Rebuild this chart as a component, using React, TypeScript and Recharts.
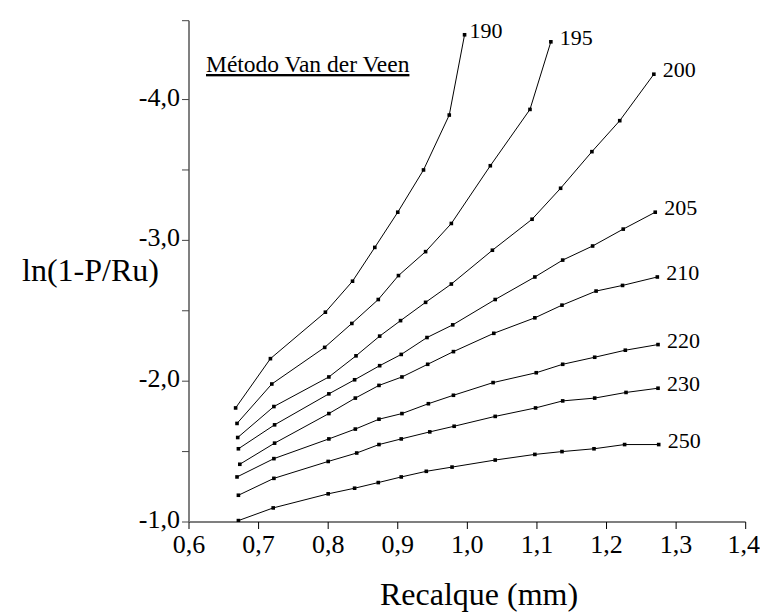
import { LineChart, Line, XAxis, YAxis } from 'recharts';

// Recalque (mm) x ln(1-P/Ru), one curve per load Ru (kN)
const loads = [190, 195, 200, 205, 210, 220, 230, 250];

const s190 = [[0.667, -1.81], [0.717, -2.16], [0.796, -2.49], [0.835, -2.71], [0.867, -2.95], [0.9, -3.2], [0.937, -3.5], [0.974, -3.89], [0.996, -4.46]];
const s195 = [[0.669, -1.7], [0.719, -1.98], [0.795, -2.24], [0.834, -2.41], [0.872, -2.58], [0.901, -2.75], [0.94, -2.92], [0.977, -3.12], [1.033, -3.53], [1.09, -3.93], [1.12, -4.41]];
const s200 = [[0.67, -1.6], [0.722, -1.82], [0.801, -2.03], [0.84, -2.18], [0.874, -2.32], [0.904, -2.43], [0.94, -2.56], [0.977, -2.69], [1.036, -2.93], [1.093, -3.15], [1.134, -3.37], [1.179, -3.63], [1.219, -3.85], [1.268, -4.18]];
const s205 = [[0.671, -1.52], [0.723, -1.69], [0.801, -1.91], [0.838, -2.01], [0.874, -2.11], [0.905, -2.19], [0.942, -2.31], [0.979, -2.4], [1.04, -2.58], [1.097, -2.74], [1.137, -2.86], [1.18, -2.96], [1.224, -3.08], [1.27, -3.2]];
const s210 = [[0.673, -1.41], [0.723, -1.56], [0.801, -1.77], [0.839, -1.88], [0.873, -1.97], [0.906, -2.03], [0.943, -2.12], [0.98, -2.21], [1.038, -2.34], [1.097, -2.45], [1.136, -2.54], [1.185, -2.64], [1.223, -2.68], [1.273, -2.74]];
const s220 = [[0.669, -1.32], [0.722, -1.45], [0.801, -1.59], [0.839, -1.66], [0.873, -1.73], [0.906, -1.77], [0.944, -1.84], [0.98, -1.9], [1.037, -1.99], [1.099, -2.06], [1.137, -2.12], [1.183, -2.17], [1.227, -2.22], [1.274, -2.26]];
const s230 = [[0.671, -1.19], [0.722, -1.31], [0.8, -1.43], [0.841, -1.49], [0.873, -1.55], [0.905, -1.59], [0.946, -1.64], [0.981, -1.68], [1.04, -1.75], [1.098, -1.81], [1.137, -1.86], [1.183, -1.88], [1.228, -1.92], [1.274, -1.95]];
const s250 = [[0.671, -1.01], [0.721, -1.1], [0.8, -1.2], [0.838, -1.24], [0.872, -1.28], [0.905, -1.32], [0.941, -1.36], [0.978, -1.39], [1.04, -1.44], [1.097, -1.48], [1.136, -1.5], [1.182, -1.52], [1.226, -1.55], [1.275, -1.55]];

const xTicks = [0.6, 0.7, 0.8, 0.9, 1.0, 1.1, 1.2, 1.3, 1.4];
const yTicks = [-4.56, -4, -3.5, -3, -2.5, -2, -1.5, -1];
const yDomain = [-4.56, -1];

const series = [s190, s195, s200, s205, s210, s220, s230, s250];
const FONT = '"Liberation Serif", "Times New Roman", serif';
const fmt = (v: number) => v.toFixed(1).replace('.', ',');

// label nudges so the numbers sit like in the original
const labelDx: Record<number, number> = { 190: 5, 195: 9 };

const SquareDot = (p: any) => (
	<rect key={`d-${p.index}`} x={p.cx - 1.8} y={p.cy - 1.8} width={3.6} height={3.6} fill="#000" />
);

function YTick(p: any) {
	const v = p.payload.value;
	if (!Number.isInteger(v)) return null;
	return (
		<text x={p.x} y={p.y + 6} textAnchor="end" fontSize={26} fontFamily={FONT} fill="#000">
			{fmt(v)}
		</text>
	);
}

export default function App() {
	return (
		<div style={{ position: 'absolute', left: 0, top: 0 }}>
			<LineChart width={760} height={612} margin={{ top: 20.7, right: 14.3, bottom: 0, left: 0 }}>
				<XAxis
					xAxisId={0}
					dataKey="x"
					type="number"
					domain={[0.6, 1.4]}
					ticks={xTicks}
					tickFormatter={fmt}
					height={90}
					tickSize={7}
					tickMargin={6}
					axisLine={{ stroke: '#000', strokeWidth: 1.2 }}
					tickLine={{ stroke: '#000' }}
					tick={{ fill: '#000', fontSize: 26, fontFamily: FONT }}
					allowDataOverflow
				/>
				<XAxis
					xAxisId="top"
					orientation="top"
					type="number"
					domain={[0.6, 1.4]}
					ticks={[0.6, 1.4]}
					tickFormatter={() => ''}
					height={0}
					tickSize={6}
					axisLine={{ stroke: '#888', strokeWidth: 1.5 }}
					tickLine={{ stroke: '#555' }}
				/>
				<YAxis
					yAxisId={0}
					type="number"
					domain={yDomain}
					reversed
					ticks={yTicks}
					width={189}
					tickSize={7}
					tickMargin={2}
					tick={<YTick />}
					axisLine={{ stroke: '#808080', strokeWidth: 2 }}
					tickLine={{ stroke: '#444' }}
					allowDataOverflow
				/>
				<YAxis
					yAxisId="right"
					orientation="right"
					type="number"
					domain={yDomain}
					reversed
					ticks={[-4.56, -1]}
					tickFormatter={() => ''}
					width={0}
					tickSize={6}
					axisLine={{ stroke: '#000', strokeWidth: 1.2 }}
					tickLine={{ stroke: '#000' }}
				/>
				{series.map((s, i) => {
					const load = loads[i];
					const data = s.map(([x, y]) => ({ x, y }));
					const last = data.length - 1;
					return (
						<Line
							key={load}
							data={data}
							dataKey="y"
							xAxisId={0}
							yAxisId={0}
							type="linear"
							stroke="#000"
							strokeWidth={1}
							dot={SquareDot}
							activeDot={false}
							isAnimationActive={false}
							label={(p: any) =>
								p.index === last ? (
									<text
										key={`l-${load}`}
										x={p.x + (labelDx[load] ?? 9)}
										y={p.y + 3}
										fontSize={22}
										fontFamily={FONT}
										fill="#000"
									>
										{load}
									</text>
								) : null
							}
						/>
					);
				})}
				<text x={206} y={72} fontSize={23.5} fontFamily={FONT} fill="#000" style={{ textDecoration: 'underline' }}>
					Método Van der Veen
				</text>
				<text x={22} y={281} fontSize={32} fontFamily={FONT} fill="#000">
					ln(1-P/Ru)
				</text>
				<text x={380} y={605} fontSize={32} fontFamily={FONT} fill="#000">
					Recalque (mm)
				</text>
			</LineChart>
		</div>
	);
}
